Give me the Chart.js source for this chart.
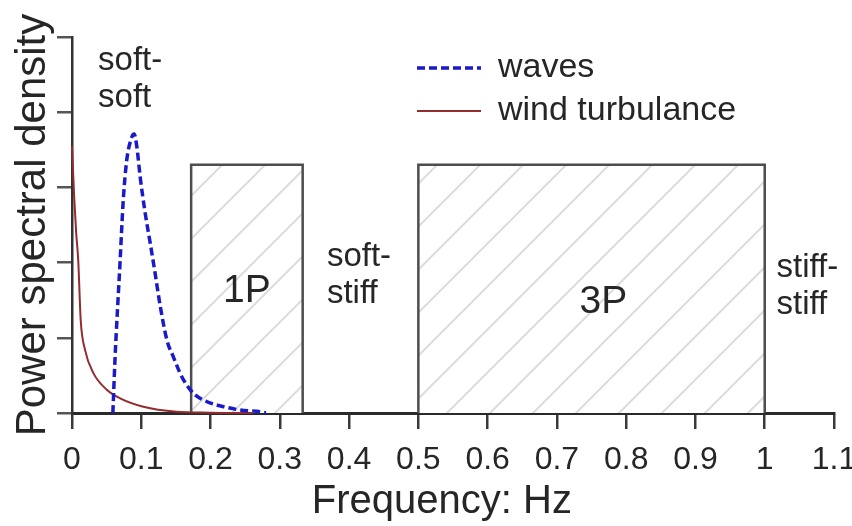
<!DOCTYPE html>
<html>
<head>
<meta charset="utf-8">
<script src="https://cdn.jsdelivr.net/npm/chart.js@4/dist/chart.umd.min.js"></script>
<style>
  html, body { margin: 0; padding: 0; background: #ffffff; }
  #wrap { width: 852px; height: 526px; position: relative; }
</style>
</head>
<body>
<div id="wrap"><canvas id="c" width="852" height="526"></canvas></div>
<script>
// ---- data ----
const xTickLabels = ['0','0.1','0.2','0.3','0.4','0.5','0.6','0.7','0.8','0.9','1','1.1'];

const waveFreq    = [0.059, 0.062, 0.0695, 0.074, 0.079, 0.0864, 0.0897, 0.0936, 0.0984, 0.1056, 0.1129, 0.1201, 0.1274, 0.137, 0.1466, 0.155, 0.161, 0.1755, 0.195, 0.219, 0.243, 0.272, 0.28];
const waveDensity = [0,     0.70,  2.03,   2.83,  3.36,  3.67,   3.71,   3.54,   3.14,   2.66,   2.26,   1.85,   1.42,   0.97,  0.74,   0.55,  0.44,  0.26,   0.15,  0.084, 0.04,  0.017, 0];

const windFreq    = [0,    0.003, 0.006, 0.009, 0.0126, 0.0188, 0.0309, 0.0502, 0.0695, 0.103, 0.151, 0.2,   0.26];
const windDensity = [3.55, 2.9,   2.4,   2.03,  1.23,   0.84,   0.53,   0.31,   0.195,  0.084, 0.017, 0.004, 0];

const box1P = [0.172, 0.333];   // frequency range of 1P band
const box3P = [0.5, 1.0];       // frequency range of 3P band
const boxHeight = 3.3;

const seriesNames = ['waves', 'wind turbulance'];
const boxNames = ['1P', '3P'];
const regionNames = [['soft-', 'soft'], ['soft-', 'stiff'], ['stiff-', 'stiff']];
const xTitle = 'Frequency: Hz';
const yTitle = 'Power spectral density';

// ---- build library structures ----
const toPts = (xs, ys) => xs.map((x, i) => ({ x: x, y: ys[i] }));
const boxPts = (r) => [{x: r[0], y: 0}, {x: r[0], y: boxHeight}, {x: r[1], y: boxHeight}, {x: r[1], y: 0}];

function hatchPattern() {
  const s = 43;
  const c = document.createElement('canvas');
  c.width = s; c.height = s;
  const g = c.getContext('2d');
  g.fillStyle = '#ffffff';
  g.fillRect(0, 0, s, s);
  g.strokeStyle = '#dcdcdc';
  g.lineWidth = 2;
  g.beginPath();
  g.moveTo(-2, s + 2); g.lineTo(s + 2, -2);
  g.moveTo(-2, 2); g.lineTo(2, -2);
  g.moveTo(s - 2, s + 2); g.lineTo(s + 2, s - 2);
  g.stroke();
  return g.createPattern(c, 'repeat');
}
const hatch = hatchPattern();

const FONT = "'Liberation Sans', Arial, sans-serif";
const TEXT = '#262626';

// region / band labels (layout placement in axis units)
const regionPlacement = [
  { x: 0.0376, y: 4.56 },
  { x: 0.368,  y: 1.95 },
  { x: 1.017,  y: 1.81 }
];
const bandPlacement = [
  { x: (box1P[0] + box1P[1]) / 2, y: 1.48 },
  { x: 0.767, y: 1.33 }
];

const labelPlugin = {
  id: 'labelPlugin',
  afterDatasetsDraw(chart) {
    const ctx = chart.ctx;
    const xs = chart.scales.x, ys = chart.scales.y;
    ctx.save();
    ctx.fillStyle = TEXT;
    ctx.textBaseline = 'alphabetic';
    ctx.textAlign = 'left';
    ctx.font = '33px ' + FONT;
    regionNames.forEach((lines, i) => {
      const px = xs.getPixelForValue(regionPlacement[i].x);
      const py = ys.getPixelForValue(regionPlacement[i].y);
      lines.forEach((t, j) => ctx.fillText(t, px, py + j * 37));
    });
    ctx.textAlign = 'center';
    ctx.font = '39px ' + FONT;
    boxNames.forEach((t, i) => {
      ctx.fillText(t, xs.getPixelForValue(bandPlacement[i].x), ys.getPixelForValue(bandPlacement[i].y));
    });
    ctx.restore();
  }
};

const legendPlacer = {
  id: 'legendPlacer',
  afterLayout(chart) {
    const lg = chart.legend;
    if (!lg) return;
    const w = lg.width, h = lg.height;
    lg.left = 408; lg.top = 42;
    lg.right = lg.left + w; lg.bottom = lg.top + h;
  }
};

new Chart(document.getElementById('c'), {
  type: 'line',
  data: {
    datasets: [
      {
        label: seriesNames[0],
        data: toPts(waveFreq, waveDensity),
        borderColor: '#1a1ac8',
        backgroundColor: '#1a1ac8',
        borderWidth: 3.5,
        borderDash: [8, 4],
        pointRadius: 0,
        cubicInterpolationMode: 'monotone',
        fill: false,
        clip: false
      },
      {
        label: seriesNames[1],
        data: toPts(windFreq, windDensity),
        borderColor: '#922c2e',
        backgroundColor: '#922c2e',
        borderWidth: 2,
        pointRadius: 0,
        cubicInterpolationMode: 'monotone',
        fill: false,
        clip: false
      },
      {
        label: boxNames[0],
        data: boxPts(box1P),
        borderColor: '#4d4d4d',
        backgroundColor: hatch,
        borderWidth: 2.5,
        pointRadius: 0,
        tension: 0,
        fill: 'origin'
      },
      {
        label: boxNames[1],
        data: boxPts(box3P),
        borderColor: '#4d4d4d',
        backgroundColor: hatch,
        borderWidth: 2.5,
        pointRadius: 0,
        tension: 0,
        fill: 'origin'
      }
    ]
  },
  options: {
    responsive: false,
    animation: false,
    devicePixelRatio: 1,
    layout: { padding: { top: 37, right: 18, left: 0, bottom: 0 } },
    plugins: {
      tooltip: { enabled: false },
      legend: {
        display: true,
        position: 'chartArea',
        align: 'start',
        labels: {
          usePointStyle: false,
          boxWidth: 64,
          boxHeight: 0,
          padding: 9,
          color: TEXT,
          font: { family: FONT, size: 34 },
          filter: (item) => seriesNames.includes(item.text)
        }
      }
    },
    scales: {
      x: {
        type: 'linear',
        min: 0, max: 1.1,
        grid: { display: true, drawOnChartArea: false, drawTicks: true, tickLength: 16, color: '#3a3a3a', lineWidth: 2.5 },
        border: { display: true, color: '#2a2a2a', width: 3 },
        ticks: {
          stepSize: 0.1,
          autoSkip: false,
          maxRotation: 0,
          padding: 12,
          color: TEXT,
          font: { family: FONT, size: 32 },
          callback: (v, i) => xTickLabels[i]
        },
        title: { display: true, text: xTitle + '  ', color: TEXT, font: { family: FONT, size: 40 }, padding: { top: 0, bottom: 0 } },
        afterFit(scale) { scale.height = 113; scale.paddingLeft = 0; scale.paddingRight = 0; }
      },
      y: {
        type: 'linear',
        min: 0, max: 5,
        grid: { display: true, drawOnChartArea: false, drawTicks: true, tickLength: 15, color: '#555555', lineWidth: 2.5 },
        border: { display: true, color: '#333333', width: 2.5 },
        ticks: { stepSize: 1, padding: 0, callback: () => '' , font: { size: 1 } },
        title: { display: true, text: yTitle, color: TEXT, font: { family: FONT, size: 42 }, padding: { top: 8, bottom: 0 } },
        afterFit(scale) { scale.width = 72; scale.paddingTop = 0; scale.paddingBottom = 0; }
      }
    }
  },
  plugins: [labelPlugin, legendPlacer]
});
</script>
</body>
</html>
